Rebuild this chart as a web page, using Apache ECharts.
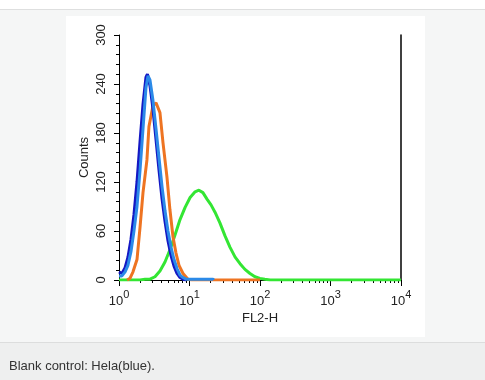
<!DOCTYPE html>
<html>
<head>
<meta charset="utf-8">
<script src="https://cdn.jsdelivr.net/npm/echarts@6/dist/echarts.min.js"></script>
<style>
html,body{margin:0;padding:0;background:#f5f6f6;}
#chart{width:485px;height:380px;}
</style>
</head>
<body>
<div id="chart"></div>
<script>
// ---- Data ----
const xExponents = ['0', '1', '2', '3', '4'];
const yTicks = [0, 60, 120, 180, 240, 300];
const xMinorTicks = [2,3,4,5,6,7,8,9,20,30,40,50,60,70,80,90,200,300,400,500,600,700,800,900,2000,3000,4000,5000,6000,7000,8000,9000];

const darkBlue = [
  [1.0,10],[1.1,8],[1.22,15],[1.34,28],[1.48,50],[1.63,80],[1.8,120],[1.99,170],
  [2.19,215],[2.41,248],[2.53,252],[2.75,238],[3.03,210],[3.35,172],[3.69,135],
  [4.07,100],[4.49,72],[4.95,48],[5.47,30],[6.03,17],[6.65,8],[7.34,3],[8.09,1],[9.0,0]
];
const lightBlue = [
  [1.0,5],[1.1,5],[1.22,10],[1.34,18],[1.48,35],[1.63,60],[1.8,90],[1.99,135],
  [2.19,185],[2.41,235],[2.58,250],[2.75,245],[3.03,220],[3.35,185],[3.69,150],
  [4.07,115],[4.49,85],[4.95,60],[5.47,40],[6.03,25],[6.65,14],[7.34,6],[8.09,3],
  [8.93,1],[10.2,1],[15,1],[21.6,1],[22,0]
];
const orange = [
  [1.3,0],[1.43,2],[1.58,10],[1.8,25],[1.99,65],[2.19,107],[2.49,147],[2.66,188],
  [3.03,213],[3.35,217],[3.57,215],[3.81,205],[4.21,168],[4.79,126],[5.28,86],
  [5.83,53],[6.43,33],[7.1,18],[8.09,8],[9.51,1],[10.8,0],[100,0]
];
const green = [
  [1.0,0],[1.99,0],[2.34,1],[2.75,1],[3.24,4],[3.81,11],[4.49,22],[5.28,37],[6.23,55],
  [7.34,74],[8.66,89],[10.2,101],[12.0,108],[13.6,110],[15.5,107],[17.7,99],[20.2,92],
  [23.0,83],[27.0,70],[31.9,54],[37.6,40],[44.4,28],[52.1,20],[61.2,13],[72.1,8],
  [84.8,4],[99.8,2],[117,1],[139,0],[10000,0]
];

const FONT = "'Liberation Sans', Arial, Helvetica, sans-serif";
const chart = echarts.init(document.getElementById('chart'), null, {renderer:'canvas'});

function lineSeries(name, data, color, z) {
  return {
    name, type:'line', data, xAxisIndex:0, yAxisIndex:0,
    symbol:'none', z,
    lineStyle:{color, width:3}, animation:false
  };
}

chart.setOption({
  backgroundColor:'#f5f6f6',
  animation:false,
  graphic:[
    {type:'rect', z:-10, shape:{x:0,y:0,width:485,height:9}, style:{fill:'#ffffff'}},
    {type:'rect', z:-10, shape:{x:0,y:9,width:485,height:1}, style:{fill:'#dedfdf'}},
    {type:'rect', z:-10, shape:{x:66,y:16,width:359,height:321}, style:{fill:'#ffffff'}},
    {type:'rect', z:-10, shape:{x:0,y:342,width:485,height:38}, style:{fill:'#eeefef'}},
    {type:'rect', z:-10, shape:{x:0,y:342,width:485,height:1}, style:{fill:'#dcdddd'}},
    {type:'text', z:10, left:9, top:360, style:{text:'Blank control: Hela(blue).', fill:'#333333', font:"13px "+FONT}}
  ],
  grid:{left:119, right:84, top:35, bottom:100},
  xAxis:[
    {
      type:'log', logBase:10, min:1, max:10000, position:'bottom',
      name:'FL2-H', nameLocation:'middle', nameGap:32, nameMoveOverlap:false,
      nameTextStyle:{color:'#222', fontSize:13, fontFamily:FONT},
      axisLine:{show:true, lineStyle:{color:'#000', width:1}},
      axisTick:{show:true, length:6, inside:false, lineStyle:{color:'#000'}},
      splitLine:{show:false},
      axisLabel:{
        margin:9, color:'#222', fontFamily:FONT,
        formatter:(v)=>{ const e = xExponents[Math.round(Math.log10(v))]; return '{b|10}{s|'+e+'}'; },
        rich:{
          b:{fontSize:13, fontFamily:FONT, color:'#222', verticalAlign:'bottom'},
          s:{fontSize:11, fontFamily:FONT, color:'#222', padding:[0,0,8,0], verticalAlign:'bottom'}
        }
      }
    },
    {
      type:'log', logBase:10, min:1, max:10000, position:'bottom',
      axisLine:{show:false},
      axisLabel:{show:false},
      splitLine:{show:false},
      axisTick:{show:true, length:3, customValues:xMinorTicks, lineStyle:{color:'#000'}}
    }
  ],
  yAxis:[
    {
      type:'value', min:0, max:300, interval:60, position:'left',
      name:'Counts', nameLocation:'middle', nameGap:28, nameRotate:90, nameMoveOverlap:false,
      nameTextStyle:{color:'#222', fontSize:13, fontFamily:FONT},
      axisLine:{show:true, lineStyle:{color:'#000', width:1}},
      axisTick:{show:true, length:5, lineStyle:{color:'#000'}},
      minorTick:{show:true, splitNumber:5, length:3, lineStyle:{color:'#000'}},
      splitLine:{show:false},
      axisLabel:{
        rotate:90, margin:11, color:'#222', fontSize:13, fontFamily:FONT,
        customValues: yTicks
      }
    },
    {
      type:'value', min:0, max:300, position:'right',
      axisLine:{show:true, lineStyle:{color:'#000', width:1.5}},
      axisTick:{show:false}, axisLabel:{show:false}, splitLine:{show:false}
    }
  ],
  series:[
    lineSeries('green', green, '#33e633', 3),
    lineSeries('orange', orange, '#ee7422', 4),
    lineSeries('darkblue', darkBlue, '#1418c4', 5),
    lineSeries('lightblue', lightBlue, '#2b8ae8', 6)
  ]
});
</script>
</body>
</html>
